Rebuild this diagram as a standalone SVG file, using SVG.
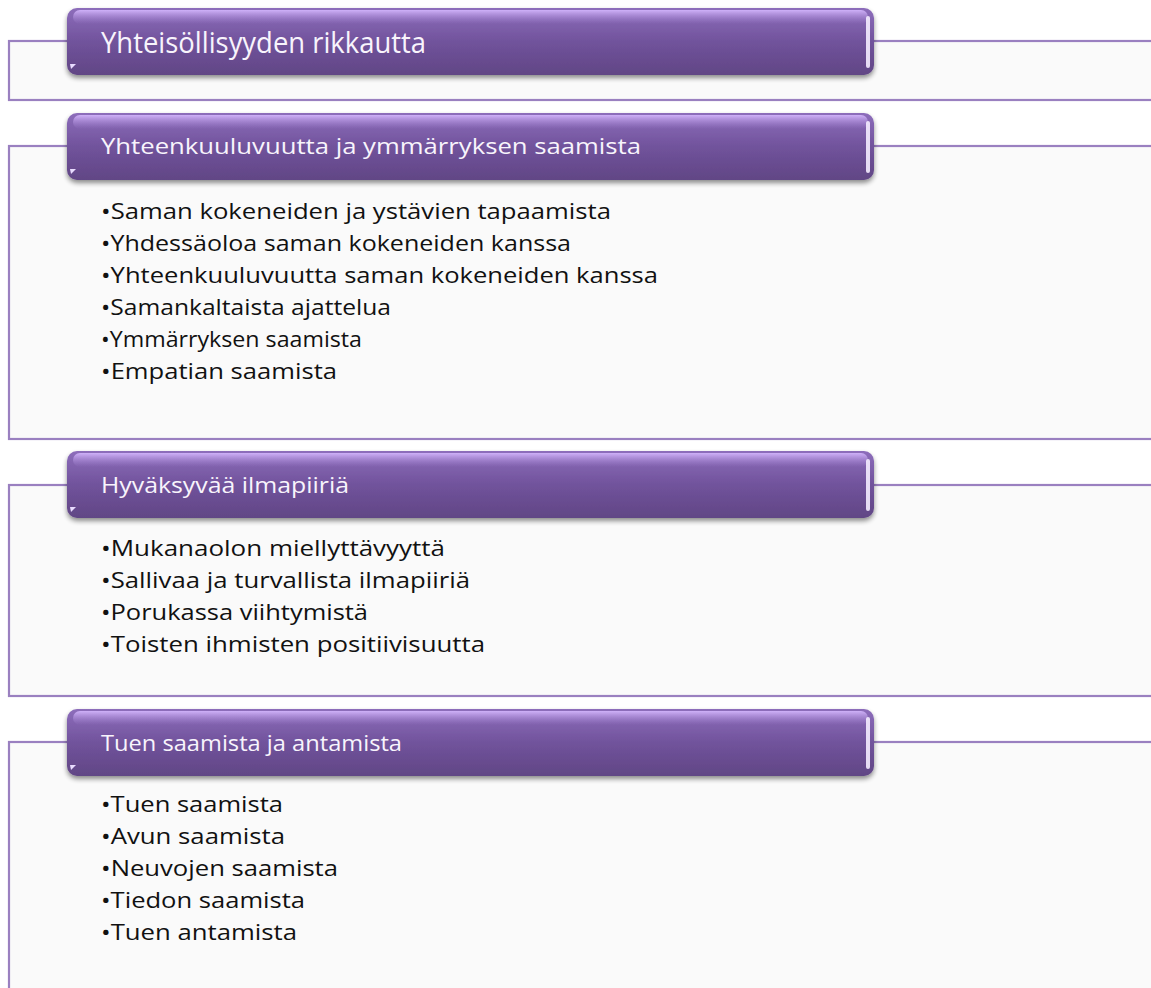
<svg xmlns="http://www.w3.org/2000/svg" width="1151" height="988" viewBox="0 0 1151 988">
<style>
.panel{fill:#fafafa;stroke:#9a80c0;stroke-width:2.2}
.hdr{fill:url(#hg)}
.hl{fill:url(#tg)}
.rs{fill:#f4ecff;opacity:0.9}
.ht{font-family:"Open Sans","Liberation Sans",sans-serif;fill:#f8f4fc}
.bt{font-family:"Open Sans","Liberation Sans",sans-serif;fill:#111;font-size:21.5px}
</style>
<defs>
<linearGradient id="hg" x1="0" y1="0" x2="0" y2="1">
<stop offset="0" stop-color="#8d6dbb"/>
<stop offset="0.5" stop-color="#71539c"/>
<stop offset="1" stop-color="#614685"/>
</linearGradient>
<linearGradient id="tg" x1="0" y1="0" x2="0" y2="1">
<stop offset="0" stop-color="#d6b8ff" stop-opacity="0.9"/>
<stop offset="1" stop-color="#a988d6" stop-opacity="0"/>
</linearGradient>
<filter id="sh" x="-5%" y="-20%" width="110%" height="150%">
<feGaussianBlur in="SourceAlpha" stdDeviation="2.5"/>
<feOffset dx="0" dy="3" result="b"/>
<feComponentTransfer><feFuncA type="linear" slope="0.45"/></feComponentTransfer>
<feMerge><feMergeNode/><feMergeNode in="SourceGraphic"/></feMerge>
</filter>
<g id="hbar">
<rect class="hdr" x="0" y="0" width="807" height="67" rx="10"/>
<rect class="hl" x="6" y="2" width="795" height="14" rx="7"/>
<rect class="rs" x="799" y="8" width="4" height="52" rx="2"/>
<path d="M3 56 L9 56 L4 61 Z" fill="#e9dcff"/>
</g>
</defs>

<g id="connectors"></g>

<g id="n1">
<rect class="panel" x="9" y="41" width="1160" height="59"/>
<use href="#hbar" x="67" y="8" filter="url(#sh)"/>
<text class="ht" x="101" y="53" font-size="28.5" textLength="325" lengthAdjust="spacingAndGlyphs">Yhteisöllisyyden rikkautta</text>
</g>

<g id="n2">
<rect class="panel" x="9" y="146" width="1160" height="293"/>
<use href="#hbar" x="67" y="113" filter="url(#sh)"/>
<text class="ht" x="101" y="154" font-size="22.5" textLength="540" lengthAdjust="spacingAndGlyphs">Yhteenkuuluvuutta ja ymmärryksen saamista</text>
<text class="bt" x="101" y="219" textLength="510" lengthAdjust="spacingAndGlyphs">•Saman kokeneiden  ja ystävien tapaamista</text>
<text class="bt" x="101" y="251" textLength="470" lengthAdjust="spacingAndGlyphs">•Yhdessäoloa saman kokeneiden kanssa</text>
<text class="bt" x="101" y="283" textLength="557" lengthAdjust="spacingAndGlyphs">•Yhteenkuuluvuutta saman kokeneiden kanssa</text>
<text class="bt" x="101" y="315" textLength="290" lengthAdjust="spacingAndGlyphs">•Samankaltaista ajattelua</text>
<text class="bt" x="101" y="347" textLength="261" lengthAdjust="spacingAndGlyphs">•Ymmärryksen saamista</text>
<text class="bt" x="101" y="379" textLength="236" lengthAdjust="spacingAndGlyphs">•Empatian saamista</text>
</g>

<g id="n3">
<rect class="panel" x="9" y="485" width="1160" height="211"/>
<use href="#hbar" x="67" y="451" filter="url(#sh)"/>
<text class="ht" x="101" y="493" font-size="22.5" textLength="248" lengthAdjust="spacingAndGlyphs">Hyväksyvää ilmapiiriä</text>
<text class="bt" x="101" y="556" textLength="344" lengthAdjust="spacingAndGlyphs">•Mukanaolon miellyttävyyttä</text>
<text class="bt" x="101" y="588" textLength="369" lengthAdjust="spacingAndGlyphs">•Sallivaa ja turvallista ilmapiiriä</text>
<text class="bt" x="101" y="620" textLength="267" lengthAdjust="spacingAndGlyphs">•Porukassa viihtymistä</text>
<text class="bt" x="101" y="652" textLength="384" lengthAdjust="spacingAndGlyphs">•Toisten ihmisten positiivisuutta</text>
</g>

<g id="n4">
<rect class="panel" x="9" y="742" width="1160" height="260"/>
<use href="#hbar" x="67" y="709" filter="url(#sh)"/>
<text class="ht" x="101" y="751" font-size="22.5" textLength="301" lengthAdjust="spacingAndGlyphs">Tuen saamista ja antamista</text>
<text class="bt" x="101" y="812" textLength="182" lengthAdjust="spacingAndGlyphs">•Tuen saamista</text>
<text class="bt" x="101" y="844" textLength="184" lengthAdjust="spacingAndGlyphs">•Avun saamista</text>
<text class="bt" x="101" y="876" textLength="237" lengthAdjust="spacingAndGlyphs">•Neuvojen saamista</text>
<text class="bt" x="101" y="908" textLength="204" lengthAdjust="spacingAndGlyphs">•Tiedon saamista</text>
<text class="bt" x="101" y="940" textLength="196" lengthAdjust="spacingAndGlyphs">•Tuen antamista</text>
</g>
</svg>
